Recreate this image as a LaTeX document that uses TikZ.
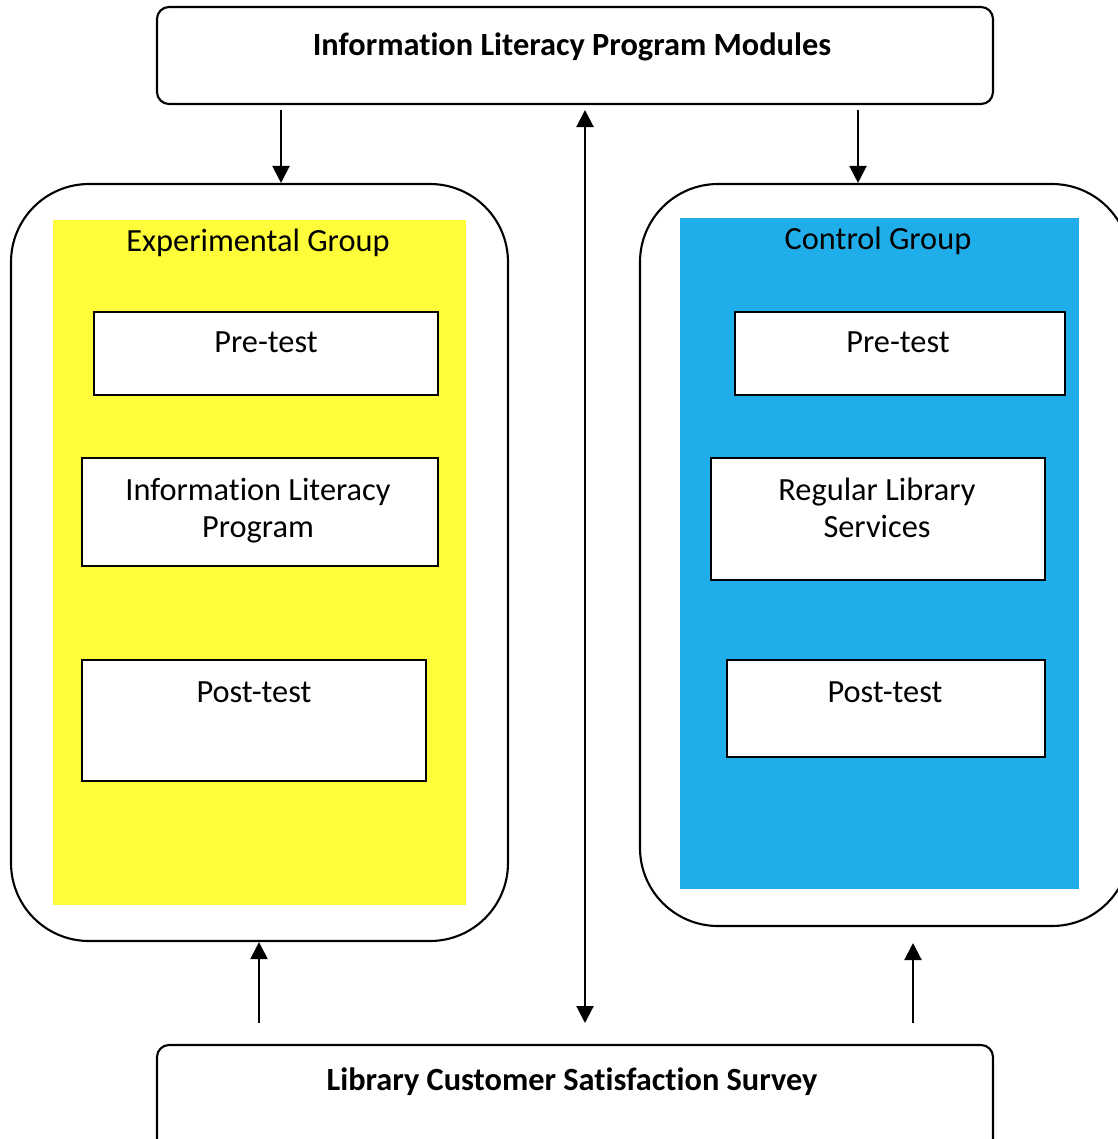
\documentclass[tikz,border=0pt]{standalone}
\usepackage{fontspec}
\setmainfont{Carlito}[Ligatures=NoCommon]
\usetikzlibrary{arrows.meta,positioning,fit}

\definecolor{expyellow}{RGB}{255,252,58}
\definecolor{ctlblue}{RGB}{32,174,234}

\begin{document}
\begin{tikzpicture}[
  x=0.01cm, y=-0.01cm,
  font=\fontsize{9.2}{10.5}\selectfont,
  hdr/.style={draw, rounded corners=0.12cm, line width=0.6pt, inner sep=0pt},
  grp/.style={draw, rounded corners=0.78cm, line width=0.6pt, inner sep=0pt},
  pnl/.style={inner sep=0pt},
  stg/.style={draw, fill=white, line width=0.7pt, inner sep=0pt},
  t/.style={inner sep=0pt, anchor=base, align=center},
  d/.style={-{Triangle[length=0.17cm,width=0.17cm]}, line width=0.6pt}
]
\useasboundingbox (0,0) rectangle (1117,1139);

% modules and survey
\node[hdr, fit={(157,7) (993,104)}] (mods) {};
\node[t, font=\fontsize{9.2}{10.5}\selectfont\bfseries] (modst) at (572,55) {Information Literacy Program Modules};
\node[hdr, fit={(157,1045) (993,1160)}] (srv) {};
\node[t, font=\fontsize{9.2}{10.5}\selectfont\bfseries] (srvt) at (572,1090) {Library Customer Satisfaction Survey};

% experimental group
\node[grp, fit={(11,184) (508,941)}] (exp) {};
\node[pnl, fill=expyellow, fit={(53,220) (466,905)}] (expp) {};
\node[t] (expt) at (258,251) {Experimental Group};
\node[stg, fit={(94,312) (438,395)}] (epre) {};
\node[t] (epret) at (266,352) {Pre-test};
\node[stg, fit={(82,458) (438,566)}] (eilp) {};
\node[t] (eilpt) at (258,537) {Information Literacy\\Program};
\node[stg, fit={(82,660) (426,781)}] (epost) {};
\node[t] (epostt) at (254,702) {Post-test};

% control group
\node[grp, fit={(640,184) (1130,926)}] (ctl) {};
\node[pnl, fill=ctlblue, fit={(680,218) (1079,889)}] (ctlp) {};
\node[t] (ctlt) at (878,249) {Control Group};
\node[stg, fit={(735,312) (1065,395)}] (cpre) {};
\node[t] (cpret) at (898,352) {Pre-test};
\node[stg, fit={(711,458) (1045,580)}] (creg) {};
\node[t] (cregt) at (877,537) {Regular Library\\Services};
\node[stg, fit={(727,660) (1045,757)}] (cpost) {};
\node[t] (cpostt) at (885,702) {Post-test};

% arrows
\coordinate (a1) at (281,110);
\coordinate (a2) at (858,110);
\coordinate (m1) at (585,110);
\coordinate (m2) at (585,1023);
\coordinate (b1) at (259,1023);
\coordinate (b2) at (913,1023);
\coordinate (b2e) at (913,943);
\draw[d] (a1) -- (a1 |- exp.north);
\draw[d] (a2) -- (a2 |- ctl.north);
\draw[d, {Triangle[length=0.17cm,width=0.17cm]}-{Triangle[length=0.17cm,width=0.17cm]}] (m1) -- (m2);
\draw[d] (b1) -- (b1 |- exp.south);
\draw[d] (b2) -- (b2e);
\end{tikzpicture}
\end{document}
